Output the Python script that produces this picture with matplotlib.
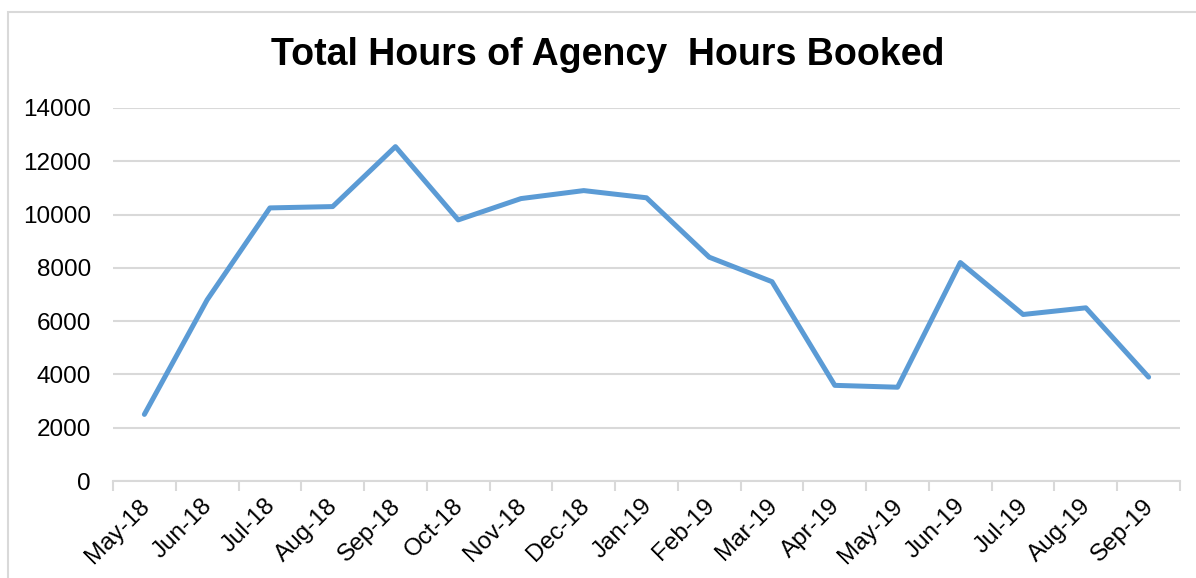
import matplotlib.pyplot as plt
from matplotlib.patches import Rectangle
from matplotlib.transforms import ScaledTranslation

plt.rcParams['font.family'] = ['Liberation Sans', 'DejaVu Sans']

months = ['May-18', 'Jun-18', 'Jul-18', 'Aug-18', 'Sep-18', 'Oct-18', 'Nov-18',
          'Dec-18', 'Jan-19', 'Feb-19', 'Mar-19', 'Apr-19', 'May-19', 'Jun-19',
          'Jul-19', 'Aug-19', 'Sep-19']
hours = [2500, 6800, 10250, 10300, 12550, 9800, 10600, 10900, 10630,
         8400, 7480, 3590, 3520, 8200, 6250, 6500, 3900]

W, H = 1196, 578
fig = plt.figure(figsize=(W / 100, H / 100), dpi=100)

# outer chart border (cut off on right and bottom)
fig.patches.append(Rectangle((8 / W, -0.1), 1.2, 1 - 12 / H + 0.1,
                             transform=fig.transFigure, fill=False,
                             edgecolor='#D9D9D9', linewidth=1.5))

ax = fig.add_axes([113 / W, 1 - 481 / H, (1180 - 113) / W, (481 - 108) / H])
x = list(range(len(months)))
ax.plot(x, hours, color='#5B9BD5', linewidth=3.6, solid_joinstyle='round',
        solid_capstyle='round', zorder=3)

ax.set_xlim(-0.5, len(months) - 0.5)
ax.set_ylim(0, 14000)
ax.set_yticks(range(0, 14001, 2000))
ax.tick_params(axis='y', length=0, pad=16, labelsize=17.5)
ax.grid(axis='y', color='#D9D9D9', linewidth=1.5)
ax.set_axisbelow(True)

# category ticks between labels, labels centred on points
ax.set_xticks([i - 0.5 for i in range(len(months) + 1)])
ax.set_xticklabels([])
ax.tick_params(axis='x', length=7, width=1.5, color='#D9D9D9')
ax.set_xticks(x, minor=True)
ax.set_xticklabels(months, minor=True, rotation=45, ha='right',
                   rotation_mode='anchor', fontsize=17.5)
ax.tick_params(axis='x', which='minor', length=0, pad=10)
shift = ScaledTranslation(-6 / 100, 0, fig.dpi_scale_trans)
for lab in ax.get_xticklabels(minor=True):
    lab.set_transform(lab.get_transform() + shift)

for s in ['top', 'right', 'left']:
    ax.spines[s].set_visible(False)
ax.spines['bottom'].set_color('#D9D9D9')
ax.spines['bottom'].set_linewidth(1.5)

fig.text((274 + 942) / 2 / W, 1 - 55 / H, 'Total Hours of Agency  Hours Booked',
         ha='center', va='center', fontsize=27, fontweight='bold')

fig.savefig('out.png', dpi=100)
